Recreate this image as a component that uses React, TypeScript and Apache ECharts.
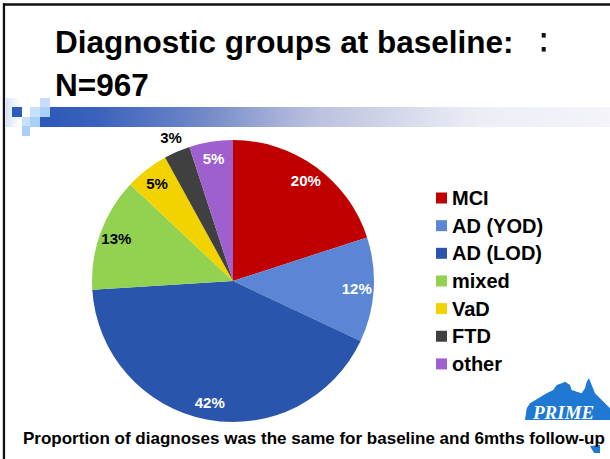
import React, { useEffect, useRef } from "react";
import * as echarts from "echarts";

const categories = ["MCI", "AD (YOD)", "AD (LOD)", "mixed", "VaD", "FTD", "other"];
const shares = [20, 12, 42, 13, 5, 3, 5];
const sliceColors = ["#c00000", "#5b86d5", "#2a55ad", "#93d150", "#f2d300", "#404040", "#9e5fcf"];
const labelColors = ["#ffffff", "#ffffff", "#ffffff", "#000000", "#000000", "#000000", "#ffffff"];
const outsideLabel = ["FTD"];

const titleText = "Diagnostic groups at baseline:\nN=967";
const footnote = "Proportion of diagnoses was the same for baseline and 6mths follow-up";

const FONT = '"Liberation Sans", Arial, Helvetica, sans-serif';

export default function App() {
  const ref = useRef<HTMLDivElement>(null);
  useEffect(() => {
    if (!ref.current) return;
    const chart = echarts.init(ref.current, undefined, { renderer: "svg" });

    const baseData = categories.map((name, i) => ({
      name,
      value: shares[i],
      itemStyle: { color: sliceColors[i] },
    }));
    const innerLabelData = categories.map((name, i) => ({
      name,
      value: shares[i],
      itemStyle: { color: "rgba(0,0,0,0)" },
      label: { show: !outsideLabel.includes(name), color: labelColors[i] },
    }));
    const outerLabelData = categories.map((name, i) => ({
      name,
      value: shares[i],
      itemStyle: { color: "rgba(0,0,0,0)" },
      label: { show: outsideLabel.includes(name), color: labelColors[i] },
    }));

    const labelCommon = {
      position: "inside",
      formatter: "{c}%",
      fontSize: 15,
      fontWeight: "bold",
      fontFamily: FONT,
    };

    const mapPts = [
      [525, 420], [526.7, 408.3], [530, 403.3], [538.3, 398.3], [546.7, 393.3],
      [553.3, 390], [556.7, 385], [561.7, 383.3], [565, 381.7], [570, 385],
      [571.7, 390], [576.7, 391.7], [581.7, 393.3], [585, 388.3], [586.7, 381.7],
      [589, 378.3], [591.7, 385], [595, 393.3], [600, 398.3], [605, 403.3],
      [610, 408.3], [610, 420],
    ];

    chart.setOption({
      animation: false,
      backgroundColor: "#ffffff",
      title: [
        {
          text: titleText,
          left: 55,
          top: 20,
          padding: 0,
          textStyle: {
            fontSize: 31.5,
            fontWeight: "bold",
            fontFamily: FONT,
            color: "#000",
            lineHeight: 43,
          },
        },
        {
          text: footnote,
          left: 23,
          top: 428,
          padding: 0,
          textStyle: {
            fontSize: 17,
            fontWeight: "bold",
            fontFamily: FONT,
            color: "#000",
            lineHeight: 20,
          },
        },
      ],
      legend: {
        orient: "vertical",
        left: 436,
        top: 188,
        padding: 0,
        itemWidth: 11,
        itemHeight: 11,
        itemGap: 7.65,
        icon: "rect",
        selectedMode: false,
        data: categories,
        textStyle: {
          fontSize: 20,
          fontWeight: "bold",
          fontFamily: FONT,
          color: "#000",
          lineHeight: 20,
        },
      },
      graphic: [
        // slide frame
        { type: "rect", shape: { x: 3, y: 3.3, width: 607, height: 2.4 }, style: { fill: "#111" }, silent: true },
        { type: "rect", shape: { x: 2.8, y: 3.3, width: 2.3, height: 456 }, style: { fill: "#111" }, silent: true },
        // small marks at top right
        { type: "rect", shape: { x: 541.7, y: 33, width: 4, height: 4.6 }, style: { fill: "#111" }, silent: true },
        { type: "rect", shape: { x: 541.7, y: 47, width: 4, height: 4.6 }, style: { fill: "#111" }, silent: true },
        // decorative gradient bar
        {
          type: "rect",
          shape: { x: 40, y: 107, width: 570, height: 20 },
          style: {
            fill: new echarts.graphic.LinearGradient(0, 0, 1, 0, [
              { offset: 0, color: "#2c58b9" },
              { offset: 0.1, color: "#3a62bd" },
              { offset: 0.28, color: "#6e87c7" },
              { offset: 0.42, color: "#a6b0d8" },
              { offset: 0.49, color: "#bcc2df" },
              { offset: 0.77, color: "#eceef6" },
              { offset: 1, color: "#f4f4fa" },
            ]),
          },
          silent: true,
        },
        {
          type: "rect",
          shape: { x: 6, y: 98, width: 14, height: 29 },
          style: {
            fill: new echarts.graphic.LinearGradient(0, 0, 1, 0, [
              { offset: 0, color: "#d4e5fa" },
              { offset: 1, color: "#ffffff" },
            ]),
          },
          silent: true,
        },
        { type: "rect", shape: { x: 12, y: 107, width: 10, height: 10 }, style: { fill: "#2f5bbd" }, silent: true },
        { type: "rect", shape: { x: 40, y: 98, width: 10, height: 9 }, style: { fill: "#c6defa" }, silent: true },
        { type: "rect", shape: { x: 30, y: 107, width: 10, height: 10 }, style: { fill: "#c9e0fb" }, silent: true },
        { type: "rect", shape: { x: 40, y: 107, width: 10, height: 10 }, style: { fill: "#a9d0f8" }, silent: true },
        { type: "rect", shape: { x: 22, y: 117, width: 8, height: 9 }, style: { fill: "#c9e0fb" }, silent: true },
        { type: "rect", shape: { x: 30, y: 117, width: 10, height: 10 }, style: { fill: "#a9d0f8" }, silent: true },
        { type: "rect", shape: { x: 22, y: 126, width: 8, height: 10 }, style: { fill: "#a9d0f8" }, silent: true },
        // PRIME logo
        { type: "polygon", shape: { points: mapPts }, style: { fill: "#1f78d2" }, silent: true },
        { type: "polygon", shape: { points: [[590, 446], [600, 445], [600, 453], [594, 453]] }, style: { fill: "#1f78d2" }, silent: true },
        {
          type: "text",
          x: 533,
          y: 403,
          style: {
            text: "PRIME",
            fontSize: 19,
            fontStyle: "italic",
            fontWeight: "bold",
            fontFamily: '"Liberation Serif", "Times New Roman", serif',
            fill: "#ffffff",
          },
          silent: true,
        },
      ],
      series: [
        {
          type: "pie",
          center: [233, 281],
          radius: 141,
          startAngle: 90,
          clockwise: true,
          silent: true,
          label: { show: false },
          labelLine: { show: false },
          itemStyle: { borderWidth: 0 },
          data: baseData,
        },
        {
          type: "pie",
          center: [233, 281],
          radius: [99, 143],
          startAngle: 90,
          clockwise: true,
          silent: true,
          legendHoverLink: false,
          label: labelCommon,
          labelLine: { show: false },
          data: innerLabelData,
        },
        {
          type: "pie",
          center: [233, 281],
          radius: [140, 166],
          startAngle: 90,
          clockwise: true,
          silent: true,
          legendHoverLink: false,
          label: labelCommon,
          labelLine: { show: false },
          data: outerLabelData,
        },
      ],
    });
    return () => chart.dispose();
  }, []);

  return (
    <div
      ref={ref}
      style={{ position: "fixed", left: 0, top: 0, width: 610, height: 459 }}
    />
  );
}
